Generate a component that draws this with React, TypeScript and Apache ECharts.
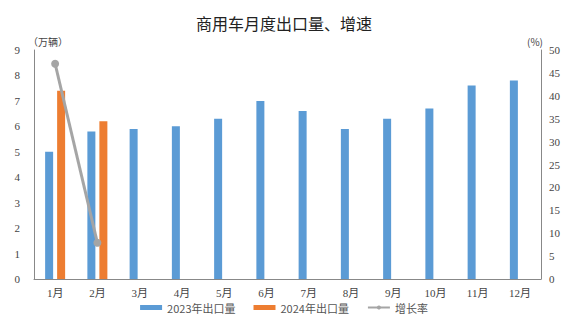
import React, { useEffect, useRef } from "react";
import * as echarts from "echarts";

const categories = ["1月", "2月", "3月", "4月", "5月", "6月", "7月", "8月", "9月", "10月", "11月", "12月"];
const exports2023 = [5.0, 5.8, 5.9, 6.0, 6.3, 7.0, 6.6, 5.9, 6.3, 6.7, 7.6, 7.8];
const exports2024 = [7.4, 6.2, null, null, null, null, null, null, null, null, null, null];
const growthRate = [47, 7.9, null, null, null, null, null, null, null, null, null, null];

const CJK = '"Liberation Serif", "Noto Sans CJK SC", serif';
const SANS = '"Noto Sans CJK SC", sans-serif';

export default function App() {
  const ref = useRef<HTMLDivElement>(null);
  useEffect(() => {
    if (!ref.current) return;
    const chart = echarts.init(ref.current, null, { renderer: "svg" });
    chart.setOption({
      animation: false,
      backgroundColor: "#ffffff",
      title: {
        text: "商用车月度出口量、增速",
        left: "center",
        top: 10,
        textStyle: { fontFamily: SANS, fontSize: 16, fontWeight: "normal", color: "#222" },
      },
      grid: { left: 34, right: 27, top: 50, bottom: 56 },
      legend: {
        bottom: 17,
        left: "center",
        itemWidth: 22,
        itemHeight: 5,
        itemGap: 18,
        textStyle: { fontFamily: SANS, fontSize: 11, color: "#555" },
        data: [
          { name: "2023年出口量", icon: "rect" },
          { name: "2024年出口量", icon: "rect" },
          { name: "增长率" },
        ],
      },
      xAxis: {
        type: "category",
        data: categories,
        axisLine: { lineStyle: { color: "#888" } },
        axisTick: { show: false },
        axisLabel: { fontFamily: CJK, fontSize: 11, color: "#444", margin: 8 },
      },
      yAxis: [
        {
          type: "value",
          min: 0,
          max: 9,
          interval: 1,
          name: "（万辆）",
          nameGap: 4,
          nameTextStyle: { fontFamily: SANS, fontSize: 10, color: "#444", align: "left", padding: [0, 0, 0, -6] },
          axisLine: { show: true, lineStyle: { color: "#888" } },
          axisTick: { show: false },
          splitLine: { show: false },
          axisLabel: { fontFamily: CJK, fontSize: 11, color: "#444", margin: 14 },
        },
        {
          type: "value",
          min: 0,
          max: 50,
          interval: 5,
          name: "(%)",
          nameGap: 4,
          nameTextStyle: { fontFamily: SANS, fontSize: 10, color: "#444", align: "center", padding: [0, 12, 0, 0] },
          axisLine: { show: true, lineStyle: { color: "#888" } },
          axisTick: { show: false },
          splitLine: { show: false },
          axisLabel: { fontFamily: CJK, fontSize: 11, color: "#444", margin: 8 },
        },
      ],
      series: [
        {
          name: "2023年出口量",
          type: "bar",
          data: exports2023,
          barWidth: 8,
          barGap: "50%",
          itemStyle: { color: "#5B9BD5" },
        },
        {
          name: "2024年出口量",
          type: "bar",
          data: exports2024,
          barWidth: 8,
          barGap: "50%",
          itemStyle: { color: "#ED7D31" },
        },
        {
          name: "增长率",
          type: "line",
          yAxisIndex: 1,
          data: growthRate,
          symbol: "circle",
          symbolSize: 8,
          lineStyle: { color: "#A5A5A5", width: 3 },
          itemStyle: { color: "#A5A5A5" },
        },
      ],
    });
    return () => chart.dispose();
  }, []);
  return <div ref={ref} style={{ width: 568, height: 335, position: "absolute", left: 0, top: 0 }} />;
}
